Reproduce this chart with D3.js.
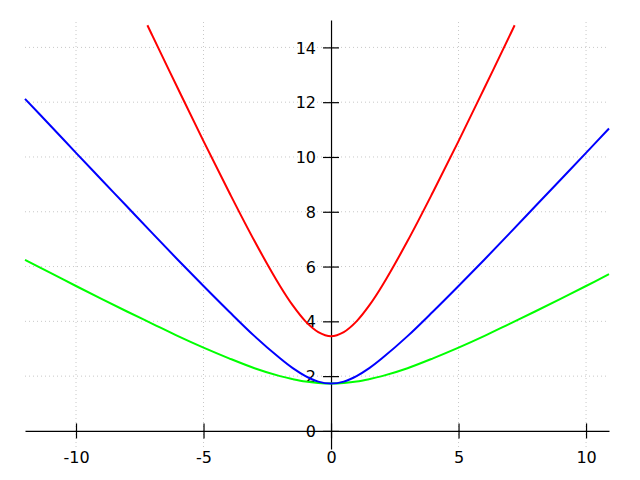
<!DOCTYPE html>
<html>
<head>
<meta charset="utf-8">
<script src="https://cdn.jsdelivr.net/npm/d3@7"></script>
<style>
  html, body { margin: 0; padding: 0; background: #fff; }
  svg { display: block; }
  .axis text { font-family: "DejaVu Sans", sans-serif; font-size: 16px; fill: #000; }
  .axis path, .axis line { stroke: #000; stroke-width: 1.2; }
  .grid line { stroke: #c8c8c8; stroke-width: 1; stroke-dasharray: 1,3; }
</style>
</head>
<body>
<div id="chart"></div>
<script>
// valori
const xValues = [-12, -11, -10, -9, -8, -7, -6, -5, -4, -3, -2, -1.5, -1, -0.5, 0, 0.5, 1, 1.5, 2, 3, 4, 5, 6, 7, 8, 9, 10, 10.9];
const blueValues = [12.12, 11.14, 10.15, 9.17, 8.19, 7.21, 6.24, 5.29, 4.36, 3.46, 2.65, 2.29, 2.00, 1.80, 1.73, 1.80, 2.00, 2.29, 2.65, 3.46, 4.36, 5.29, 6.24, 7.21, 8.19, 9.17, 10.15, 11.04];
const greenValues = [6.24, 5.77, 5.29, 4.82, 4.36, 3.91, 3.46, 3.04, 2.65, 2.29, 2.00, 1.89, 1.80, 1.75, 1.73, 1.75, 1.80, 1.89, 2.00, 2.29, 2.65, 3.04, 3.46, 3.91, 4.36, 4.82, 5.29, 5.72];
const redX = [-7.2, -7, -6, -5, -4, -3, -2, -1.5, -1, -0.5, 0, 0.5, 1, 1.5, 2, 3, 4, 5, 6, 7, 7.2];
const redValues = [14.81, 14.42, 12.49, 10.58, 8.72, 6.93, 5.29, 4.58, 4.00, 3.61, 3.46, 3.61, 4.00, 4.58, 5.29, 6.93, 8.72, 10.58, 12.49, 14.42, 14.81];
const xTicks = [-10, -5, 0, 5, 10];
const yTicks = [0, 2, 4, 6, 8, 10, 12, 14];

const width = 640, height = 480;

const svg = d3.select('#chart').append('svg')
    .attr('width', width)
    .attr('height', height);

const xScale = d3.scaleLinear().domain([-12, 10.9]).range([25, 609]);
const yScale = d3.scaleLinear().domain([-0.66, 15]).range([449, 20]);

// griglia tratteggiata
const grid = svg.append('g').attr('class', 'grid');
grid.selectAll('.gx').data(xTicks.filter(d => d !== 0)).enter().append('line')
    .attr('x1', d => xScale(d)).attr('x2', d => xScale(d))
    .attr('y1', 22).attr('y2', yScale.range()[0]);
grid.selectAll('.gy').data(yTicks.filter(d => d !== 0)).enter().append('line')
    .attr('y1', d => yScale(d)).attr('y2', d => yScale(d))
    .attr('x1', xScale.range()[0]).attr('x2', xScale.range()[1]);

// assi che passano per lo zero
const fmt = d => String(d);

const axisX = svg.append('g').attr('class', 'axis')
    .attr('transform', `translate(0, ${yScale(0)})`)
    .call(d3.axisBottom(xScale).tickValues(xTicks).tickFormat(fmt).tickSize(7).tickSizeOuter(0));
axisX.selectAll('.tick line').attr('y1', -7.5).attr('y2', 7.5);
axisX.selectAll('.tick text').attr('y', 26).attr('dy', '0.35em');

const axisY = svg.append('g').attr('class', 'axis')
    .attr('transform', `translate(${xScale(0)}, 0)`)
    .call(d3.axisLeft(yScale).tickValues(yTicks).tickFormat(fmt).tickSize(8).tickSizeOuter(0));
axisY.selectAll('.tick line').attr('x1', -8).attr('x2', 8);
axisY.selectAll('.tick text').attr('x', -15).attr('dy', '0.35em');

// curve
const line = d3.line()
    .x(d => xScale(d[0]))
    .y(d => yScale(d[1]))
    .curve(d3.curveCatmullRom);

const series = [
    { color: '#00ff00', pts: xValues.map((x, i) => [x, greenValues[i]]) },
    { color: '#0000ff', pts: xValues.map((x, i) => [x, blueValues[i]]) },
    { color: '#ff0000', pts: redX.map((x, i) => [x, redValues[i]]) }
];

svg.selectAll('.curve').data(series).enter().append('path')
    .attr('class', 'curve')
    .attr('fill', 'none')
    .attr('stroke', d => d.color)
    .attr('stroke-width', 2)
    .attr('d', d => line(d.pts));
</script>
</body>
</html>
